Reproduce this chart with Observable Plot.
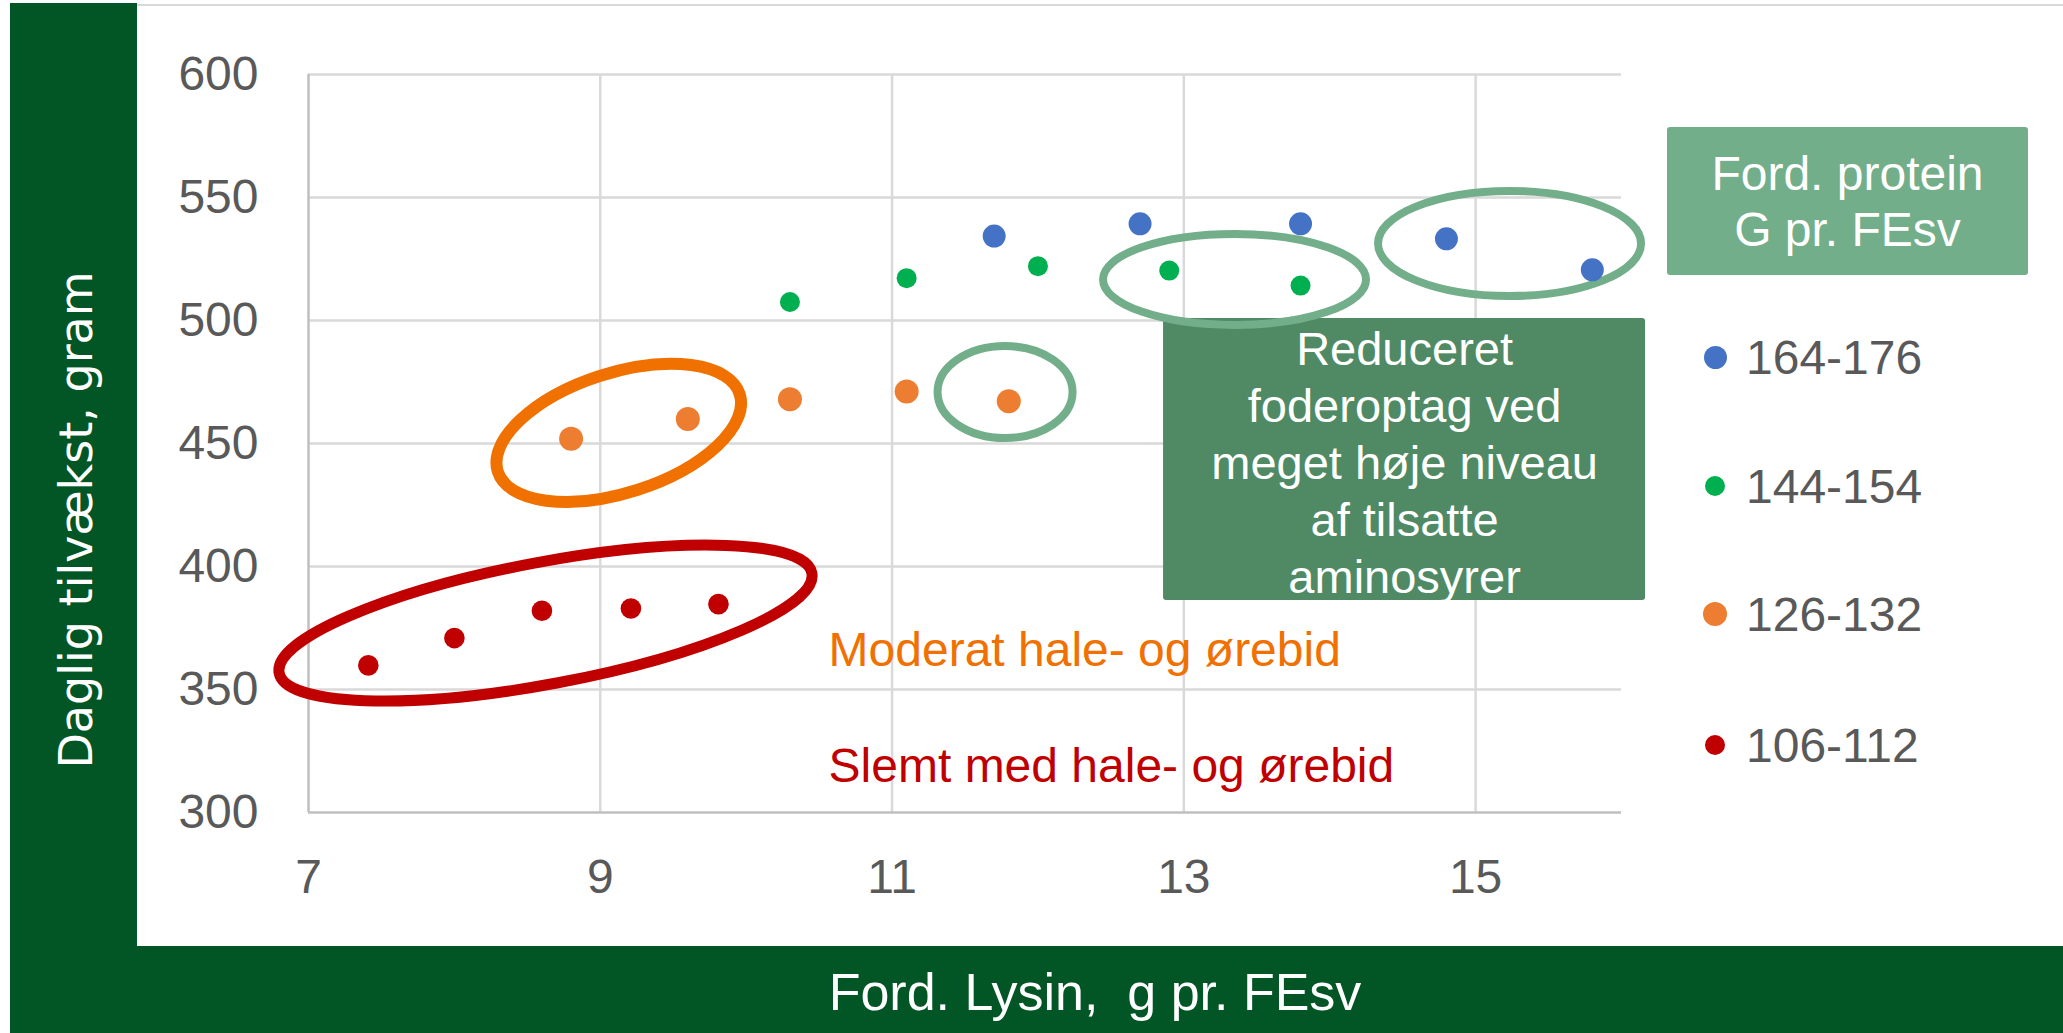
<!DOCTYPE html>
<html>
<head>
<meta charset="utf-8">
<script src="https://cdn.jsdelivr.net/npm/d3@7"></script>
<script src="https://cdn.jsdelivr.net/npm/@observablehq/plot@0.6"></script>
<style>
  html, body { margin: 0; padding: 0; background: #ffffff; }
  #wrap { position: relative; width: 2063px; height: 1033px; overflow: hidden; background: #ffffff; font-family: "Liberation Sans", Arial, sans-serif; }
  #chart { position: absolute; left: 0; top: 0; }
  .abs { position: absolute; }
  .band { background: #025524; }
  .legrow { position: absolute; height: 48px; font-size: 48px; line-height: 48px; color: #595959; white-space: nowrap; }
  .legdot { position: absolute; border-radius: 50%; }
</style>
</head>
<body>
<div id="wrap">
  <div id="chart"></div>
</div>
<script>
// ---------- data ----------
const xTicks = [7, 9, 11, 13, 15];
const yTicks = [300, 350, 400, 450, 500, 550, 600];

const seriesNames = ["164-176", "144-154", "126-132", "106-112"];
const seriesColors = ["#4472C4", "#00B050", "#ED7D31", "#C00000"];

const blueX = [11.7, 12.7, 13.8, 14.8, 15.8];
const blueY = [534.3, 539.3, 539.3, 533.2, 520.6];
const greenX = [10.3, 11.1, 12.0, 12.9, 13.8];
const greenY = [507.5, 517.2, 522.1, 520.3, 514.2];
const orangeX = [8.8, 9.6, 10.3, 11.1, 11.8];
const orangeY = [451.9, 460.0, 468.0, 471.1, 467.2];
const redX = [7.41, 8.0, 8.6, 9.21, 9.81];
const redY = [359.8, 370.9, 382.0, 382.9, 384.7];

const xTitle = "Ford. Lysin,  g pr. FEsv";
const yTitle = "Daglig tilvækst, gram";
const legendTitle = ["Ford. protein", "G pr. FEsv"];
const boxText = ["Reduceret", "foderoptag ved", "meget høje niveau", "af tilsatte", "aminosyrer"];
const noteModerat = "Moderat hale- og ørebid";
const noteSlemt = "Slemt med hale- og ørebid";

// ---------- build tables ----------
const seriesX = [blueX, greenX, orangeX, redX];
const seriesY = [blueY, greenY, orangeY, redY];
const dotR = [11.5, 10, 12, 10.3];
const seriesPoints = seriesX.map((xs, s) => xs.map((x, i) => ({x, y: seriesY[s][i]})));

// annotation layout (data-space anchors, pixel sizes)
const ellipses = [
  {x: 8.628, y: 376.8, rx: 271, ry: 61, rotate: -10.6, color: "#C00000", width: 11},
  {x: 9.13, y: 454.1, rx: 127, ry: 60, rotate: -17.8, color: "#F07000", width: 12},
  {x: 11.778, y: 470.7, rx: 67.5, ry: 46, rotate: 0, color: "#73AE8A", width: 8},
  {x: 13.351, y: 516.5, rx: 131.5, ry: 45.5, rotate: 0, color: "#73AE8A", width: 8},
  {x: 15.236, y: 531.1, rx: 131.5, ry: 52.5, rotate: 0, color: "#73AE8A", width: 8}
];
const boxRect = [{x1: 12.861, x2: 16.165, y1: 386.2, y2: 500.8}];
const boxLabel = [{x: 14.513, y: 443.0, text: boxText.join("\n")}];
const notes = [
  {x: 10.565, y: 365.8, text: noteModerat, color: "#F07000"},
  {x: 10.565, y: 318.5, text: noteSlemt, color: "#C00000"}
];

function ellipseMark(index, scales) {
  const g = d3.create("svg:g");
  for (const e of ellipses) {
    g.append("ellipse")
      .attr("cx", 0).attr("cy", 0).attr("rx", e.rx).attr("ry", e.ry)
      .attr("transform", `translate(${scales.x(e.x)},${scales.y(e.y)}) rotate(${e.rotate})`)
      .attr("fill", "none").attr("stroke", e.color).attr("stroke-width", e.width);
  }
  return g.node();
}

const FONT = "Liberation Sans, Arial, sans-serif";

const plot = Plot.plot({
  width: 2063,
  height: 1033,
  marginLeft: 308,
  marginRight: 442,
  marginTop: 74,
  marginBottom: 221,
  x: {domain: [7, 16], axis: null},
  y: {domain: [300, 600], axis: null},
  style: {background: "transparent", overflow: "visible", fontFamily: FONT},
  marks: [
    Plot.ruleX(xTicks.slice(1), {stroke: "#D9D9D9", strokeWidth: 2.5}),
    Plot.ruleY(yTicks.slice(1), {stroke: "#D9D9D9", strokeWidth: 2.5}),
    Plot.ruleX([xTicks[0]], {stroke: "#BFBFBF", strokeWidth: 2.5}),
    Plot.ruleY([yTicks[0]], {stroke: "#BFBFBF", strokeWidth: 2.5}),
    Plot.text(xTicks, {x: d => d, frameAnchor: "bottom", dy: 65.6, text: d => String(d), fontSize: 48, fill: "#595959", fontFamily: FONT, lineAnchor: "middle"}),
    Plot.text(yTicks, {y: d => d, frameAnchor: "left", dx: -50, text: d => String(d), fontSize: 48, fill: "#595959", fontFamily: FONT, textAnchor: "end", lineAnchor: "middle"}),
    Plot.rect(boxRect, {x1: "x1", x2: "x2", y1: "y1", y2: "y2", fill: "#4F8A65", rx: 3}),
    Plot.text(boxLabel, {x: "x", y: "y", text: "text", fill: "white", fontSize: 47, lineHeight: 1.213, fontFamily: FONT, lineAnchor: "middle"}),
    ellipseMark,
    ...seriesPoints.map((pts, s) => Plot.dot(pts, {x: "x", y: "y", r: dotR[s], fill: seriesColors[s], stroke: "none"})),
    Plot.text(notes, {x: "x", y: "y", text: "text", fill: "color", fontSize: 48, fontFamily: FONT, textAnchor: "start", lineAnchor: "middle"})
  ]
});
document.getElementById("chart").appendChild(plot);

// ---------- frame decorations (HTML) ----------
const wrap = document.getElementById("wrap");
function addDiv(cls, css, html) {
  const d = document.createElement("div");
  d.className = cls;
  Object.assign(d.style, css);
  if (html !== undefined) d.textContent = html;
  wrap.appendChild(d);
  return d;
}
addDiv("abs", {left: "137px", top: "4px", width: "1926px", height: "2px", background: "#D9D9D9"});
addDiv("abs band", {left: "10px", top: "3px", width: "127px", height: "1030px"});
addDiv("abs band", {left: "10px", top: "946px", width: "2053px", height: "87px"});

// x title
addDiv("abs", {left: "1095px", top: "992px", transform: "translate(-50%,-50%)", color: "white", fontSize: "52px", lineHeight: "52px", whiteSpace: "pre", fontFamily: FONT}, xTitle);
// y title
addDiv("abs", {left: "76px", top: "520px", transform: "translate(-50%,-50%) rotate(-90deg)", color: "white", fontSize: "46px", lineHeight: "46px", whiteSpace: "nowrap", fontFamily: "DejaVu Sans, Verdana, sans-serif"}, yTitle);

// legend title box
const lb = addDiv("abs", {left: "1667px", top: "127px", width: "361px", height: "148px", background: "#73AE8A", borderRadius: "3px", color: "white", fontSize: "48px", lineHeight: "56px", textAlign: "center", fontFamily: FONT, paddingTop: "19px", boxSizing: "border-box"});
lb.innerHTML = legendTitle.join("<br>");

// legend rows
const rowCenters = [357, 486, 614, 745];
seriesNames.forEach((name, i) => {
  const r = dotR[i];
  addDiv("legdot", {left: (1715 - r) + "px", top: (rowCenters[i] - r) + "px", width: 2 * r + "px", height: 2 * r + "px", background: seriesColors[i]});
  addDiv("legrow", {left: "1746px", top: (rowCenters[i] - 23.4) + "px", fontFamily: FONT}, name);
});
</script>
</body>
</html>
